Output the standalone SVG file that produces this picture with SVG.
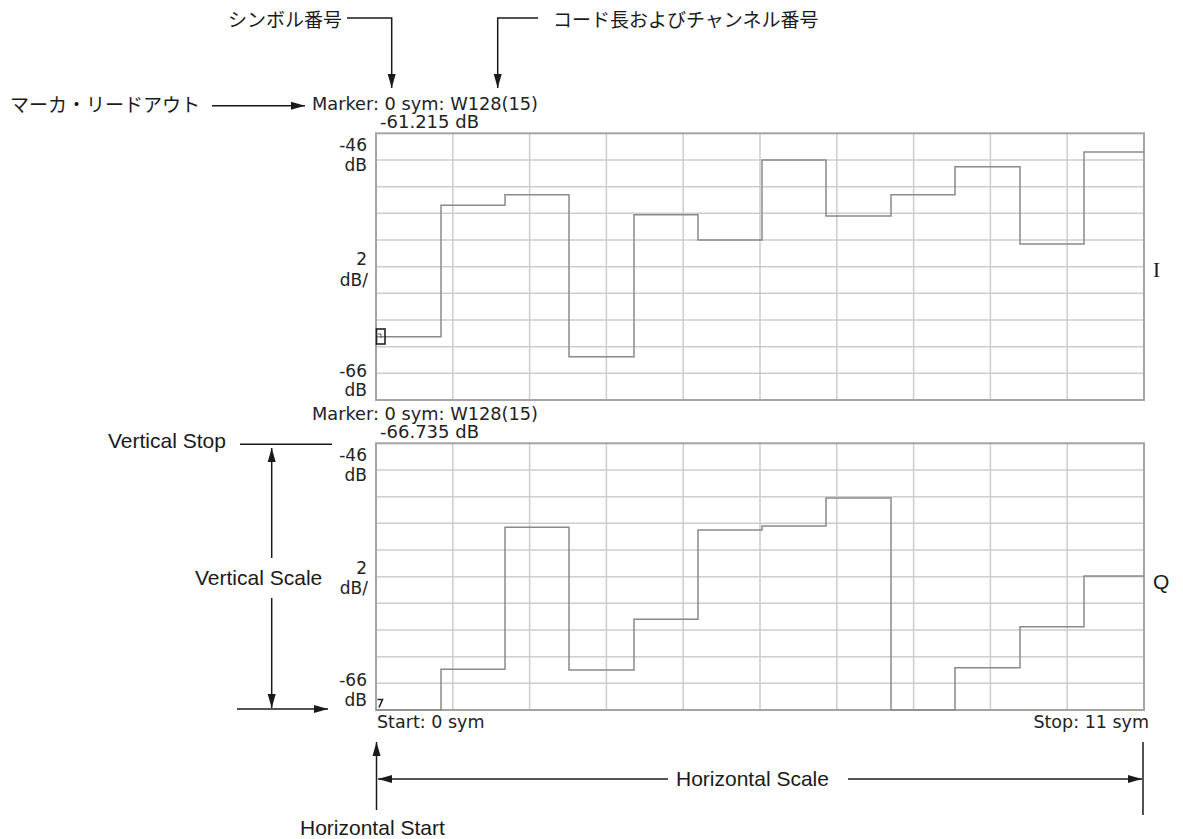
<svg xmlns="http://www.w3.org/2000/svg" width="1183" height="839" viewBox="0 0 1183 839">
<defs>
<marker id="ah" markerUnits="userSpaceOnUse" markerWidth="16" markerHeight="10" refX="14" refY="5" orient="auto-start-reverse">
<path d="M0,1 L14,5 L0,9 z" fill="#1a1a1a"/>
</marker>
<style>
.jp{font-family:"Noto Sans CJK JP","Noto Sans",sans-serif;font-size:19px;fill:#1a1a1a}
.lb{font-family:"Liberation Sans",Arial,sans-serif;font-size:21px;fill:#1a1a1a}
.sc{font-family:"DejaVu Sans",Verdana,sans-serif;font-size:17.5px;fill:#222}
.ax{font-family:"DejaVu Sans",Verdana,sans-serif;font-size:17px;fill:#222;text-anchor:end}
.grid{stroke:#cdcdcd;stroke-width:1.5;fill:none}
.frame{stroke:#a4a4a4;stroke-width:2;fill:none}
.trace{stroke:#8a8a8a;stroke-width:1.5;fill:none}
.con{stroke:#1a1a1a;stroke-width:1.5;fill:none}
.arr{stroke:#1a1a1a;stroke-width:1.5;fill:none;marker-end:url(#ah)}
</style>
<g id="gridlines">
<path class="grid" d="M452.8,0V266.7M529.6,0V266.7M606.4,0V266.7M683.2,0V266.7M760,0V266.7M836.8,0V266.7M913.6,0V266.7M990.4,0V266.7M1067.2,0V266.7M376,26.67H1144M376,53.33H1144M376,80H1144M376,106.67H1144M376,133.33H1144M376,160H1144M376,186.67H1144M376,213.33H1144M376,240H1144"/>
</g>
</defs>
<rect width="1183" height="839" fill="#ffffff"/>

<g id="graph-I">
<use href="#gridlines" transform="translate(0,133.3)"/>
<rect class="frame" x="376" y="133.3" width="768" height="266.7"/>
<path class="trace" d="M376,336.7H441V205.3H505V194.7H569V356.7H634V214.7H698V240H762V160H826V216H891V194.7H955V166.7H1020V244H1084V152H1144"/>
<rect x="376.5" y="329" width="8.5" height="15" fill="none" stroke="#222" stroke-width="1.6"/>
<path d="M378,334h3v4" stroke="#555" stroke-width="1" fill="none"/>
<text class="sc" x="312" y="109.5" textLength="226" lengthAdjust="spacingAndGlyphs">Marker: 0 sym: W128(15)</text>
<text class="sc" x="380" y="128" textLength="99" lengthAdjust="spacingAndGlyphs">-61.215 dB</text>
<text class="ax" x="367" y="151">-46</text>
<text class="ax" x="367" y="171">dB</text>
<text class="ax" x="367" y="265">2</text>
<text class="ax" x="368" y="285.5">dB/</text>
<text class="ax" x="367" y="376.5">-66</text>
<text class="ax" x="367" y="396">dB</text>
<text x="1153" y="277" font-family="'Liberation Serif','Times New Roman',serif" font-size="21" fill="#1a1a1a">I</text>
</g>

<g id="graph-Q">
<use href="#gridlines" transform="translate(0,443.3)"/>
<rect class="frame" x="376" y="443.3" width="768" height="266.7"/>
<path class="trace" d="M376,710H441V669.3H505V527.3H569V670H634V619.3H698V530H762V526H826V498H891V710H955V667.7H1020V626.7H1084V576H1144"/>
<path d="M377.5,699.5h5l-3.5,8" stroke="#222" stroke-width="1.6" fill="none"/>
<text class="sc" x="312" y="419.5" textLength="226" lengthAdjust="spacingAndGlyphs">Marker: 0 sym: W128(15)</text>
<text class="sc" x="380" y="438" textLength="99" lengthAdjust="spacingAndGlyphs">-66.735 dB</text>
<text class="ax" x="367" y="461">-46</text>
<text class="ax" x="367" y="481">dB</text>
<text class="ax" x="367" y="574">2</text>
<text class="ax" x="368" y="593.5">dB/</text>
<text class="ax" x="367" y="686">-66</text>
<text class="ax" x="367" y="706">dB</text>
<text class="sc" x="377" y="728">Start: 0 sym</text>
<text class="sc" x="1149" y="728" text-anchor="end">Stop: 11 sym</text>
<text x="1153" y="589" font-family="'Liberation Sans',Arial,sans-serif" font-size="21" fill="#1a1a1a">Q</text>
</g>

<g id="label-symbol">
<text class="jp" x="228" y="27">シンボル番号</text>
</g>
<g id="label-code">
<text class="jp" x="553" y="27">コード長およびチャンネル番号</text>
</g>
<g id="label-marker">
<text class="jp" x="10" y="112">マーカ・リードアウト</text>
</g>
<g id="label-vstop">
<text class="lb" x="108" y="448">Vertical Stop</text>
</g>
<g id="label-vscale">
<text class="lb" x="195" y="585">Vertical Scale</text>
</g>
<g id="label-hscale">
<text class="lb" x="676" y="786">Horizontal Scale</text>
</g>
<g id="label-hstart">
<text class="lb" x="300" y="835">Horizontal Start</text>
</g>

<g id="connectors">
<path class="arr" d="M347,18H391.7V88"/>
<path class="arr" d="M538,18H497.7V88"/>
<path class="arr" d="M212,105.7H305"/>
<path class="con" d="M240,444.3H332"/>
<path class="arr" d="M271.7,558V448"/>
<path class="arr" d="M271.7,598V708"/>
<path class="arr" d="M237,709H328"/>
<path class="arr" d="M376.5,810V742"/>
<path class="arr" d="M668,779H378"/>
<path class="arr" d="M848,779H1142"/>
<path class="con" d="M1143,742V815"/>
</g>
</svg>
